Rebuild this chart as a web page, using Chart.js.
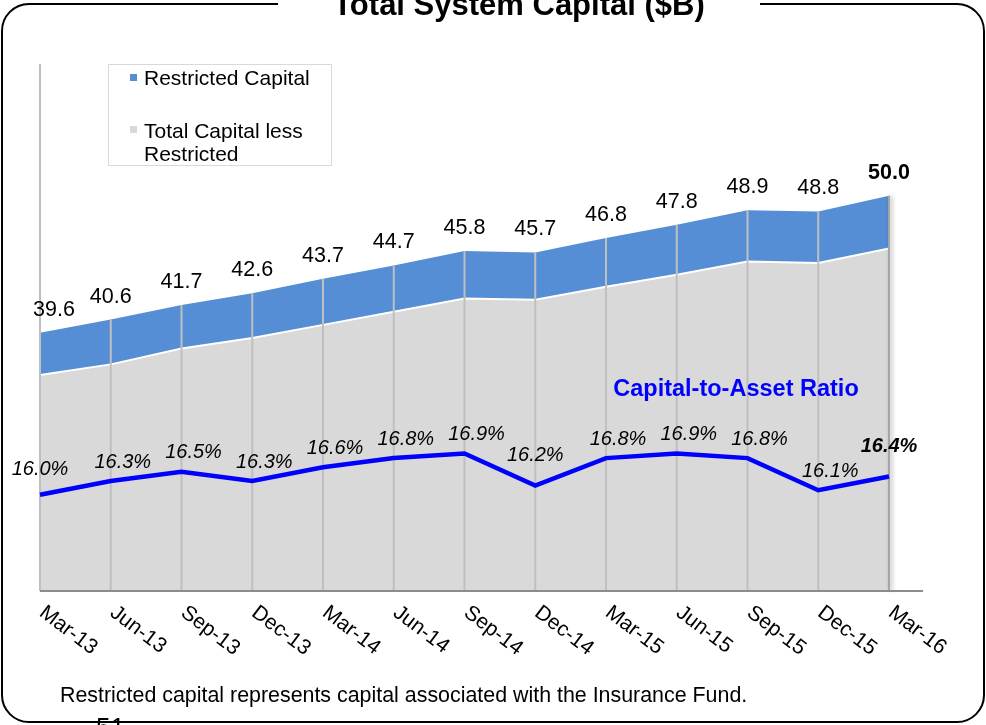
<!DOCTYPE html>
<html>
<head>
<meta charset="utf-8">
<title>Total System Capital</title>
<script src="https://cdn.jsdelivr.net/npm/chart.js@4"></script>
<style>
    body { margin: 0; background: #fff; font-family: "Liberation Sans", Arial, sans-serif; }
    #wrap { position: relative; width: 986px; height: 725px; overflow: hidden; }
    #frame { position: absolute; left: 1px; top: 3px; width: 984px; height: 720px; box-sizing: border-box;
             border: 2px solid #000; border-radius: 28px; }
    #title { position: absolute; left: 278px; width: 482px; top: -10px; height: 30px; line-height: 30px;
             background: #fff; text-align: center; font-weight: bold; font-size: 31px; color: #000; }
    #legend { position: absolute; left: 108px; top: 64px; width: 224px; height: 102px; box-sizing: border-box;
              border: 1px solid #d9d9d9; background: #fff; }
    .sw { position: absolute; width: 7px; height: 7px; }
    .lt { position: absolute; left: 144px; font-size: 21px; line-height: 24px; color: #000; }
    #ratioTitle { position: absolute; left: 586px; width: 300px; top: 375px; text-align: center;
                  font-size: 23.5px; line-height: 26px; font-weight: bold; color: #0000ff; }
    #note { position: absolute; left: 60px; top: 683px; font-size: 21.4px; line-height: 24px; color: #000; white-space: nowrap; }
    #page { position: absolute; left: 96px; top: 712px; font-size: 26px; line-height: 30px; color: #000; }
    canvas { position: absolute; left: 0; top: 0; }
</style>
</head>
<body>
<div id="wrap">
    <canvas id="capital-chart" width="986" height="725"></canvas>
    <div id="frame"></div>
    <div id="title">Total System Capital ($B)</div>
    <div id="legend"></div>
    <div class="sw" style="left:130px; top:74px; background:#558ED5;"></div>
    <div class="lt" style="top:66px;">Restricted Capital</div>
    <div class="sw" style="left:130px; top:126px; background:#D9D9D9;"></div>
    <div class="lt" style="top:119px; line-height:23px;">Total Capital less<br>Restricted</div>
    <div id="ratioTitle">Capital-to-Asset Ratio</div>
    <div id="note">Restricted capital represents capital associated with the Insurance Fund.</div>
    <div id="page">51</div>
</div>
<script>
const quarters = ['Mar-13', 'Jun-13', 'Sep-13', 'Dec-13', 'Mar-14', 'Jun-14', 'Sep-14',
                  'Dec-14', 'Mar-15', 'Jun-15', 'Sep-15', 'Dec-15', 'Mar-16'];
// $B
const capitalLessRestricted = [36.4, 37.2, 38.4, 39.2, 40.2, 41.2, 42.2, 42.1, 43.1, 44.0, 45.0, 44.9, 46.0];
const restrictedCapital = [3.2, 3.4, 3.3, 3.4, 3.5, 3.5, 3.6, 3.6, 3.7, 3.8, 3.9, 3.9, 4.0];
// %
const capitalToAsset = [16.0, 16.3, 16.5, 16.3, 16.6, 16.8, 16.9, 16.2, 16.8, 16.9, 16.8, 16.1, 16.4];

const FONT = '"Liberation Sans", Arial, sans-serif';

const overlay = {
    id: 'overlay',
    beforeDatasetDraw(chart, args) {
        // drop lines go over the areas but under the ratio line
        if (args.index !== 0) return;
        const ctx = chart.ctx, area = chart.chartArea;
        const tops = chart.getDatasetMeta(2).data;
        ctx.save();
        ctx.strokeStyle = '#BFBFBF';
        ctx.lineWidth = 2;
        ctx.beginPath();
        ctx.moveTo(area.left, area.top);
        ctx.lineTo(area.left, area.bottom);
        ctx.stroke();
        tops.forEach((pt, i) => {
            if (i === 0) return;
            ctx.save();
            if (i === tops.length - 1) {
                ctx.strokeStyle = '#A6A6A6';
                ctx.shadowColor = 'rgba(0,0,0,0.35)';
                ctx.shadowBlur = 4;
                ctx.shadowOffsetX = 2;
            }
            ctx.beginPath();
            ctx.moveTo(pt.x, pt.y);
            ctx.lineTo(pt.x, area.bottom);
            ctx.stroke();
            ctx.restore();
        });
        ctx.restore();
    },
    afterDatasetsDraw(chart) {
        const ctx = chart.ctx, area = chart.chartArea;
        const x = chart.scales.x;
        const n = quarters.length;
        ctx.save();

        // category axis line, runs a bit past the last point
        ctx.strokeStyle = '#8C8C8C';
        ctx.lineWidth = 2;
        ctx.beginPath();
        ctx.moveTo(area.left, area.bottom);
        ctx.lineTo(area.right + 34, area.bottom);
        ctx.stroke();

        // slanted quarter labels
        ctx.fillStyle = '#000';
        ctx.font = '21px ' + FONT;
        ctx.textAlign = 'left';
        ctx.textBaseline = 'top';
        quarters.forEach((q, i) => {
            ctx.save();
            ctx.translate(x.getPixelForValue(i) + 8, area.bottom + 11);
            ctx.rotate(37 * Math.PI / 180);
            ctx.fillText(q, 0, 0);
            ctx.restore();
        });

        // total capital labels
        ctx.textAlign = 'center';
        ctx.textBaseline = 'middle';
        const tops = chart.getDatasetMeta(2).data;
        tops.forEach((pt, i) => {
            const total = (capitalLessRestricted[i] + restrictedCapital[i]).toFixed(1);
            ctx.font = (i === n - 1 ? 'bold ' : '') + '21.5px ' + FONT;
            ctx.fillText(total, pt.x + (i === 0 ? 14 : 0), pt.y - 23);
        });

        // ratio labels
        const pts = chart.getDatasetMeta(0).data;
        pts.forEach((pt, i) => {
            const v = capitalToAsset[i];
            let dx = 12, dy = -19;
            const dip = i > 0 && i < n - 1 && v < capitalToAsset[i - 1] - 0.3 && v < capitalToAsset[i + 1] - 0.3;
            if (dip || i === n - 1) { dx = 0; dy = -30; }
            if (i === 0) { dx = 0; dy = -25; }
            ctx.font = 'italic ' + (i === n - 1 ? 'bold ' : '') + '20px ' + FONT;
            ctx.fillText(v.toFixed(1) + '%', pt.x + dx, pt.y + dy);
        });
        ctx.restore();
    }
};

new Chart(document.getElementById('capital-chart'), {
    type: 'line',
    data: {
        labels: quarters,
        datasets: [
            {
                label: 'Capital-to-Asset Ratio',
                data: capitalToAsset,
                yAxisID: 'y1',
                borderColor: '#0000FF',
                borderWidth: 4.5,
                pointRadius: 0,
                fill: false
            },
            {
                label: 'Total Capital less Restricted',
                data: capitalLessRestricted,
                yAxisID: 'y',
                backgroundColor: '#D9D9D9',
                borderColor: '#FFFFFF',
                borderWidth: 2,
                pointRadius: 0,
                fill: 'start'
            },
            {
                label: 'Restricted Capital',
                data: restrictedCapital,
                yAxisID: 'y',
                backgroundColor: '#558ED5',
                borderWidth: 0,
                pointRadius: 0,
                fill: '-1'
            }
        ]
    },
    options: {
        responsive: false,
        animation: false,
        layout: { padding: { left: 40, right: 97, top: 64, bottom: 134 } },
        plugins: {
            legend: { display: false },
            tooltip: { enabled: false }
        },
        scales: {
            x: { display: false, offset: false },
            y: { display: false, stacked: true, min: 20, max: 60 },
            y1: { display: false, min: 13.9, max: 25.4 }
        }
    },
    plugins: [overlay]
});
</script>
</body>
</html>
